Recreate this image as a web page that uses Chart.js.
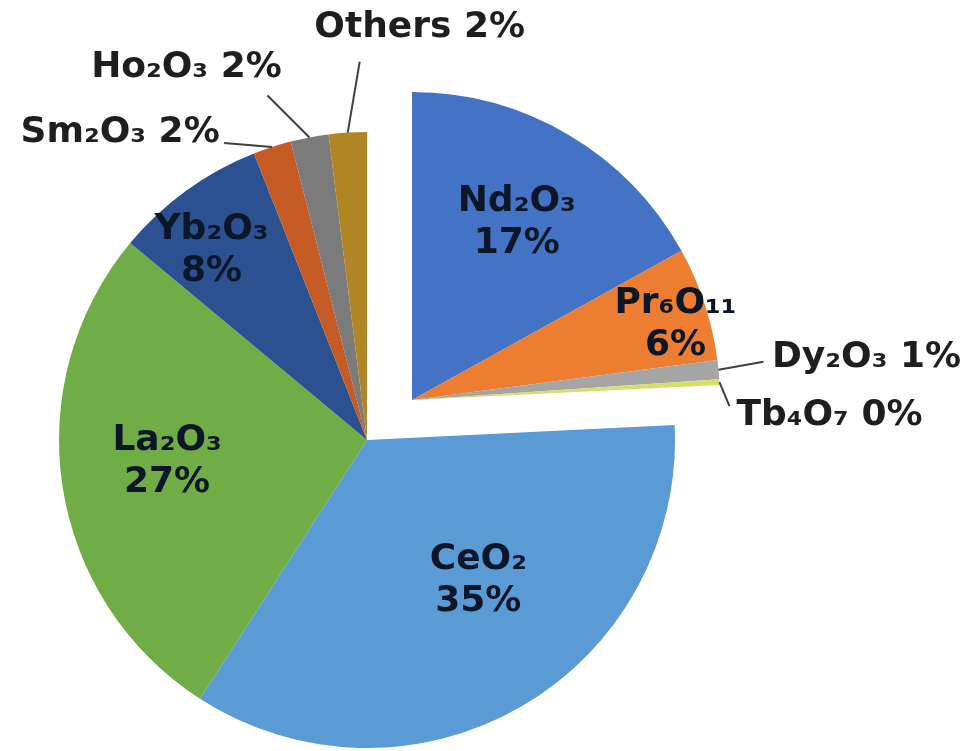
<!DOCTYPE html>
<html>
<head>
<meta charset="utf-8">
<script src="https://cdn.jsdelivr.net/npm/chart.js@4.4.1/dist/chart.umd.min.js"></script>
<style>
  html, body { margin: 0; padding: 0; background: #ffffff; }
  #wrap { width: 972px; height: 751px; position: relative; }
</style>
</head>
<body>
<div id="wrap"><canvas id="oxidePie"></canvas></div>
<script>
// Rare-earth oxide shares (%), listed clockwise from 12 o'clock
const oxides = ['Nd₂O₃', 'Pr₆O₁₁', 'Dy₂O₃', 'Tb₄O₇', 'CeO₂', 'La₂O₃', 'Yb₂O₃', 'Sm₂O₃', 'Ho₂O₃', 'Others'];
const shares = [17, 6, 1, 0.3, 35, 27, 8, 2, 2, 2];
// Slices pulled out of the pie together as one block
const explodedOxides = ['Nd₂O₃', 'Pr₆O₁₁', 'Dy₂O₃', 'Tb₄O₇'];

// ---- styling ----
const sliceColors = ['#4472C4', '#ED7D31', '#A5A5A5', '#D6DF6B', '#5B9BD5',
                     '#70AD47', '#2B5191', '#C55A24', '#7B7B7B', '#B08524'];
const explodeShift = { dx: 45, dy: -40 };
const labelFont = 'bold 36px "DejaVu Sans", Verdana, sans-serif';
const lineGap = 42;
const insideInk = '#0b1628';
const outsideInk = '#1e1e1e';
const leaderInk = '#404040';

// inside labels: position along the slice bisector (fraction of radius) plus a nudge
// outside labels: text centre and leader-line end, relative to the slice's outer edge
const labelStyle = {
  'Nd₂O₃':  { inside: true, frac: 0.67, shift: [0, 0] },
  'Pr₆O₁₁': { inside: true, frac: 0.887, shift: [4, 10] },
  'Dy₂O₃':  { inside: false, text: [148, -12], leader: [45, -8] },
  'Tb₄O₇':  { inside: false, text: [110, 33], leader: [10, 24] },
  'CeO₂':   { inside: true, frac: 0.6, shift: [19, -19] },
  'La₂O₃':  { inside: true, frac: 0.65, shift: [-2, -9] },
  'Yb₂O₃':  { inside: true, frac: 0.8, shift: [-11, 10] },
  'Sm₂O₃':  { inside: false, text: [-152, -14], leader: [-48, -4] },
  'Ho₂O₃':  { inside: false, text: [-123, -70], leader: [-42, -42] },
  'Others': { inside: false, text: [72, -105], leader: [12, -71] }
};

// Moves the exploded block of slices as a single unit
const explodeBlock = {
  id: 'explodeBlock',
  afterDatasetUpdate(chart, args) {
    args.meta.data.forEach((arc, i) => {
      if (explodedOxides.includes(chart.data.labels[i])) {
        arc.x += explodeShift.dx;
        arc.y += explodeShift.dy;
      }
    });
  }
};

// Category + percentage labels, with leader lines for the small slices
const sliceLabels = {
  id: 'sliceLabels',
  afterDatasetsDraw(chart) {
    const ctx = chart.ctx;
    const meta = chart.getDatasetMeta(0);
    const values = chart.data.datasets[0].data;
    const total = values.reduce((a, b) => a + b, 0);
    ctx.save();
    ctx.font = labelFont;
    ctx.textAlign = 'center';
    ctx.textBaseline = 'middle';
    meta.data.forEach((arc, i) => {
      const name = chart.data.labels[i];
      const st = labelStyle[name];
      const pct = Math.round(values[i] / total * 100) + '%';
      const mid = (arc.startAngle + arc.endAngle) / 2;
      const R = arc.outerRadius;
      const ux = Math.cos(mid), uy = Math.sin(mid);
      if (st.inside) {
        const cx = arc.x + ux * R * st.frac + st.shift[0];
        const cy = arc.y + uy * R * st.frac + st.shift[1];
        ctx.fillStyle = insideInk;
        ctx.fillText(name, cx, cy - lineGap / 2);
        ctx.fillText(pct, cx, cy + lineGap / 2);
      } else {
        const ex = arc.x + ux * R, ey = arc.y + uy * R;
        ctx.strokeStyle = leaderInk;
        ctx.lineWidth = 2;
        ctx.beginPath();
        ctx.moveTo(ex, ey);
        ctx.lineTo(ex + st.leader[0], ey + st.leader[1]);
        ctx.stroke();
        ctx.fillStyle = outsideInk;
        ctx.fillText(name + ' ' + pct, ex + st.text[0], ey + st.text[1]);
      }
    });
    ctx.restore();
  }
};

new Chart(document.getElementById('oxidePie'), {
  type: 'pie',
  data: {
    labels: oxides,
    datasets: [{
      data: shares,
      backgroundColor: sliceColors,
      borderWidth: 0
    }]
  },
  options: {
    responsive: true,
    maintainAspectRatio: false,
    animation: false,
    events: [],
    layout: { padding: { left: 59, right: 297, top: 132, bottom: 3 } },
    plugins: {
      legend: { display: false },
      tooltip: { enabled: false },
      title: { display: false }
    }
  },
  plugins: [explodeBlock, sliceLabels]
});
</script>
</body>
</html>
